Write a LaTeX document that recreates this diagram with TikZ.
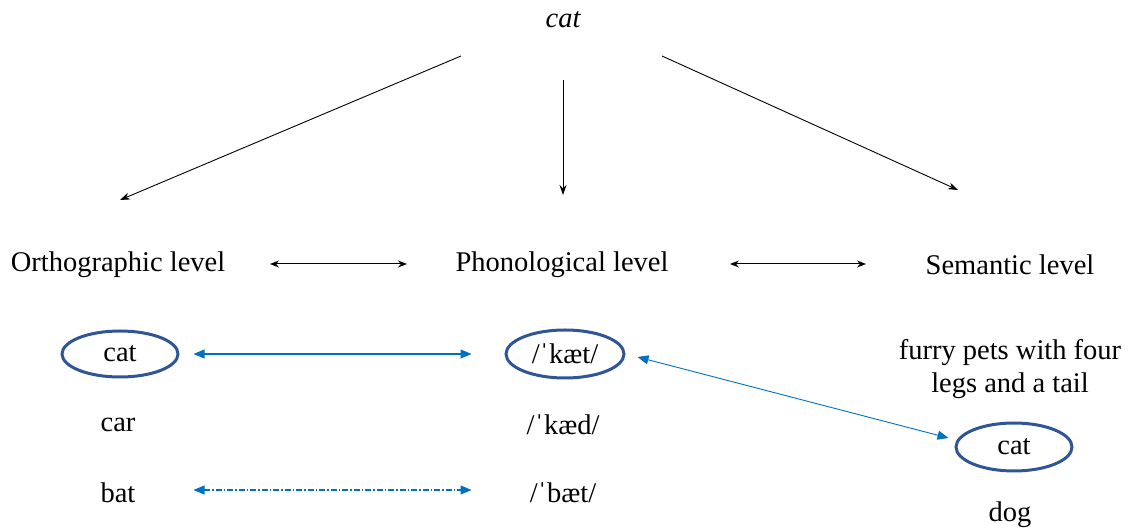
\documentclass[tikz,border=0pt]{standalone}
\usepackage{fontspec}
\setmainfont{LiberationSerif}[Extension=.ttf, UprightFont=*-Regular, ItalicFont=*-Italic, BoldFont=*-Bold]
\usetikzlibrary{arrows.meta,shapes.geometric,calc}
\definecolor{linkblue}{HTML}{0070C0}
\definecolor{ringblue}{HTML}{2F5597}
\tikzset{
  txt/.style={font=\fontsize{28.5}{33}\selectfont, inner sep=0pt, align=center},
  ring/.style={txt, ellipse, draw=ringblue, line width=3pt, minimum width=116pt, minimum height=46pt},
  down/.style={-{Stealth[length=10pt,width=7pt]}, line width=0.9pt, black},
  pair/.style={{Stealth[length=9pt,width=7pt]}-{Stealth[length=9pt,width=7pt]}, line width=1pt, black},
  link/.style={{Triangle[length=11pt,width=9pt]}-{Triangle[length=11pt,width=9pt]}, line width=1.2pt, linkblue},
  dashdot/.style={dash pattern=on 6pt off 2pt on 1.5pt off 2pt},
}
\begin{document}
\begin{tikzpicture}[x=1pt,y=1pt]
\useasboundingbox (0,0) rectangle (1130,530);

% source word
\node[txt, font=\fontsize{28.5}{33}\selectfont\itshape] (word) at (563,510) {cat};
\coordinate (wl) at (461,474);
\coordinate (wm) at (563,450);
\coordinate (wr) at (662,474);

% the three levels
\node[txt] (orth) at (118,265) {Orthographic level};
\node[txt] (phon) at (562,265) {Phonological level};
\node[txt] (sem)  at (1010,265) {Semantic level};
\coordinate (ol) at (120,330);
\coordinate (pl) at (563,335);
\coordinate (sl) at (958,340);

\draw[down] (wl) -- (ol);
\draw[down] (wm) -- (pl);
\draw[down] (wr) -- (sl);

\coordinate (a1) at (270,266);
\coordinate (a2) at (407,266);
\coordinate (a3) at (730,266);
\coordinate (a4) at (866,266);
\draw[pair] (a1) -- (a2);
\draw[pair] (a3) -- (a4);

% orthographic candidates
\node[ring] (ocat) at (120,176) {cat};
\node[txt] (ocar) at (118,105) {car};
\node[txt] (obat) at (118,37) {bat};

% phonological candidates
\node[ring, minimum width=118pt, minimum height=48pt] (pkaet) at (565,176) {/ˈkæt/};
\node[txt] (pkaed) at (563,105) {/ˈkæd/};
\node[txt] (pbaet) at (563,37) {/ˈbæt/};

% semantic candidates
\node[txt] (desc) at (1010,161) {furry pets with four\\legs and a tail};
\node[ring, minimum height=48pt] (scat) at (1014,83) {cat};
\node[txt] (sdog) at (1010,15) {dog};

% links between levels
\draw[link] ($(ocat.east)+(14,0)$) -- ($(pkaet.west)+(-33,0)$);
\draw[link, dashdot] ($(ocat.east |- obat.east)+(14,3)$) -- ($(pkaet.west |- pbaet.east)+(-33,3)$);
\draw[link, line width=0.9pt] ($(pkaet.east)+(12,-3)$) -- ($(scat.west)+(-6,9)$);
\end{tikzpicture}
\end{document}
